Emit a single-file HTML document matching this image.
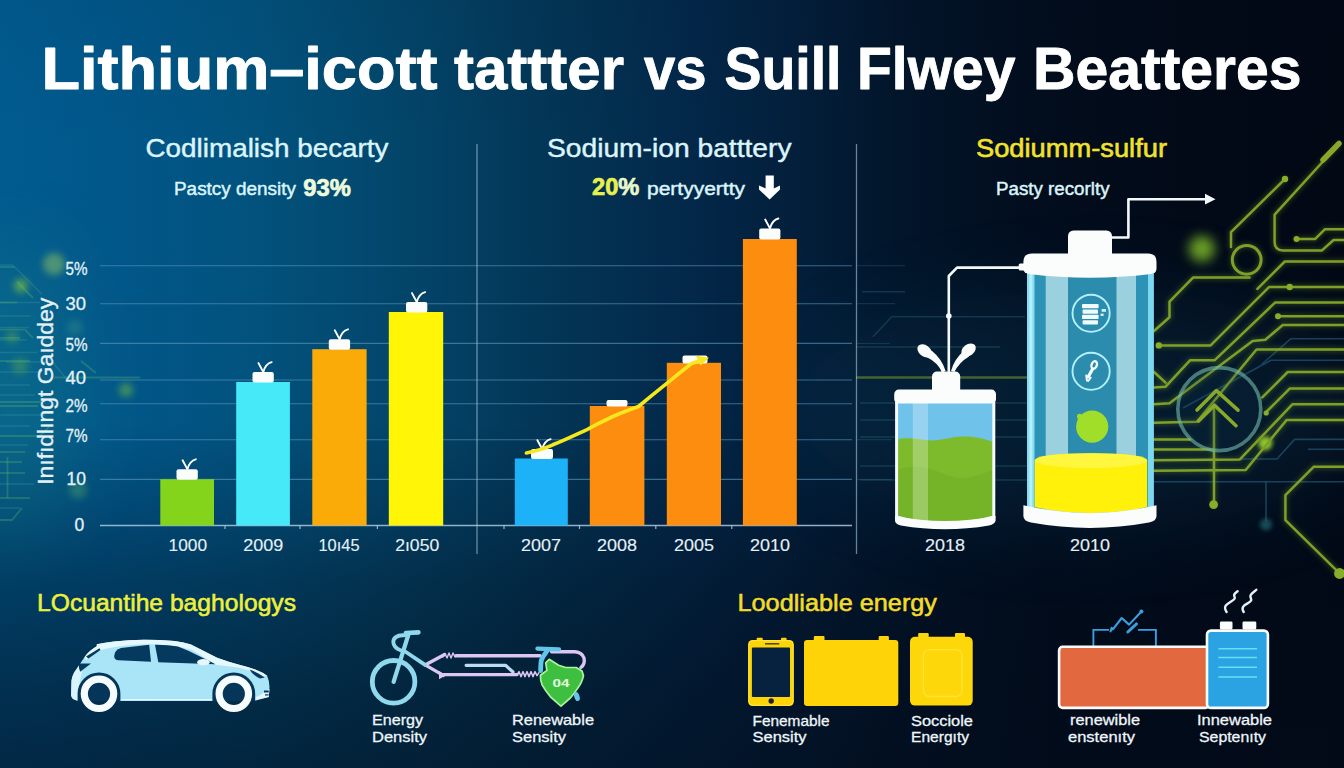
<!DOCTYPE html>
<html>
<head>
<meta charset="utf-8">
<title>Battery comparison</title>
<style>
html,body{margin:0;padding:0;width:1344px;height:768px;overflow:hidden;background:#0a1a30;}
body{font-family:"Liberation Sans",sans-serif;position:relative;}
#bg{position:absolute;left:0;top:0;width:1344px;height:768px;
background:
 linear-gradient(to bottom, rgba(2,10,30,0) 0%, rgba(2,10,30,0) 55%, rgba(2,10,30,0.18) 66%, rgba(2,11,26,0.37) 76%, rgba(2,11,26,0.54) 90%, rgba(2,11,26,0.63) 100%),
 linear-gradient(to bottom, rgba(2,10,30,0.05) 0%, rgba(2,10,30,0.02) 10%, rgba(2,10,30,0) 20%),
 linear-gradient(to right,#015b8f 0%,#01578a 8%,#02527d 19%,#034468 31%,#033454 42%,#03284a 51%,#031f3b 59%,#02152a 67%,#020d1d 77%,#020a18 88%,#020814 100%);}
svg{position:absolute;left:0;top:0;}
text{font-family:"Liberation Sans",sans-serif;}
</style>
</head>
<body>
<div id="bg"></div>
<svg width="1344" height="768" viewBox="0 0 1344 768">
<defs>
<filter id="glow" x="-50%" y="-50%" width="200%" height="200%"><feGaussianBlur stdDeviation="2.2"/></filter>
<filter id="blur4" x="-100%" y="-100%" width="300%" height="300%"><feGaussianBlur stdDeviation="3.6"/></filter>
<filter id="blur6" x="-100%" y="-100%" width="300%" height="300%"><feGaussianBlur stdDeviation="6"/></filter>
<filter id="blur30" x="-50%" y="-50%" width="200%" height="200%"><feGaussianBlur stdDeviation="40"/></filter>
<filter id="soft" x="-10%" y="-10%" width="120%" height="120%"><feGaussianBlur stdDeviation="0.6"/></filter>
</defs>

<!-- LAYER: circuits -->
<g id="circuits">
<ellipse cx="1090" cy="410" rx="290" ry="120" fill="#0f4a6a" opacity="0.24" filter="url(#blur30)"/>
<g fill="none" stroke="#2f7a86" stroke-opacity="0.32" stroke-width="1.6">
<path d="M862 291.7H905M873 336.7L891.7 316.7H1025M856 347H1000M860 403H1027M860 420H1027M860 437H1027M860 466H1027M860 480H1027"/>
</g>
<path d="M856 377.5H1029" stroke="#7d9a2a" stroke-opacity="0.55" stroke-width="2.6" fill="none"/>
<path d="M856 377.5H1029" stroke="#9cc42c" stroke-opacity="0.3" stroke-width="7" fill="none" filter="url(#glow)"/>
<circle cx="1201.8" cy="248.8" r="13" fill="#8ccc2c" opacity="0.75" filter="url(#blur6)"/>
<circle cx="1265.3" cy="443.3" r="7" fill="#9cd42e" opacity="0.9" filter="url(#glow)"/>
<circle cx="1266" cy="524.4" r="6" fill="#2a7d86" opacity="0.55" filter="url(#glow)"/>
<g fill="none" stroke="#2a6a86" stroke-opacity="0.55" stroke-width="1.6" stroke-linejoin="round"><path d="M1344 338.8H1290.7L1262 364"/><path d="M1344 360.3H1271L1183 408"/><path d="M1344 439.4H1294.6L1277 459H1240"/><path d="M1344 449.2H1308"/><path d="M1154 481.7H1344"/><path d="M1266 481.7V521"/></g>
<g fill="none" stroke="#8fbc2a" stroke-opacity="0.22" stroke-width="6" stroke-linejoin="round" stroke-linecap="round" filter="url(#glow)"><path d="M1338 145L1274.6 214.7V242Q1274.6 250.4 1283 250.4H1322L1333.6 240H1344"/><path d="M1285 179L1231 232.2V247"/><path d="M1249.6 277.6H1193L1169.5 301.6V317.2L1154 331"/><path d="M1296.5 239.1H1315L1324.8 229.3H1344"/><path d="M1344 261.5H1284.8L1257.4 288.9"/><path d="M1344 286.9H1269.2L1210.6 345.4H1158.8"/><path d="M1344 302.6H1275L1214.5 360.3H1190L1165.6 386.7L1154 387.6"/><path d="M1154 372L1165.6 382.7"/><path d="M1278 316.2H1344"/><path d="M1344 325H1282.8L1265.3 339.7L1252.6 341L1169.5 403.3L1154 404.2"/><path d="M1344 349.5H1256.5L1196.9 421.8L1154 422.8"/><path d="M1344 372H1287.7L1262.3 397.4"/><path d="M1344 388.6H1289.7L1266.2 412"/><path d="M1344 404.2H1292.6L1239.9 459.4L1154 460.2"/><path d="M1344 419.9H1286.7L1245.7 470L1154 470.8"/><path d="M1154 439.4H1190"/><path d="M1154 449.4H1212"/><path d="M1344 466.8H1313.6L1285.4 495.2V520.2L1339.6 573.4"/><path d="M1214 408V504.6"/><circle cx="1246.7" cy="259.8" r="14.4"/></g>
<g fill="none" stroke="#7fa028" stroke-width="2.5" stroke-linejoin="round" stroke-linecap="round"><path d="M1338 145L1274.6 214.7V242Q1274.6 250.4 1283 250.4H1322L1333.6 240H1344"/><path d="M1285 179L1231 232.2V247"/><path d="M1249.6 277.6H1193L1169.5 301.6V317.2L1154 331"/><path d="M1296.5 239.1H1315L1324.8 229.3H1344"/><path d="M1344 261.5H1284.8L1257.4 288.9"/><path d="M1344 286.9H1269.2L1210.6 345.4H1158.8"/><path d="M1344 302.6H1275L1214.5 360.3H1190L1165.6 386.7L1154 387.6"/><path d="M1154 372L1165.6 382.7"/><path d="M1278 316.2H1344"/><path d="M1344 325H1282.8L1265.3 339.7L1252.6 341L1169.5 403.3L1154 404.2"/><path d="M1344 349.5H1256.5L1196.9 421.8L1154 422.8"/><path d="M1344 372H1287.7L1262.3 397.4"/><path d="M1344 388.6H1289.7L1266.2 412"/><path d="M1344 404.2H1292.6L1239.9 459.4L1154 460.2"/><path d="M1344 419.9H1286.7L1245.7 470L1154 470.8"/><path d="M1154 439.4H1190"/><path d="M1154 449.4H1212"/><path d="M1344 466.8H1313.6L1285.4 495.2V520.2L1339.6 573.4"/><path d="M1214 408V504.6"/><circle cx="1246.7" cy="259.8" r="14.4" stroke-width="3"/></g>
<g fill="#88ad29"><circle cx="1285" cy="179" r="3.2"/><circle cx="1296.5" cy="239.1" r="3"/><circle cx="1158.8" cy="345.4" r="3.2"/><circle cx="1278" cy="316.2" r="3"/><circle cx="1289.7" cy="287" r="3.2"/><circle cx="1266.2" cy="413" r="2.6"/><circle cx="1213.6" cy="504.6" r="4.4"/><circle cx="1339.6" cy="573.4" r="5.5"/></g>
<path d="M1323 160L1339 143.5" stroke="#87a829" stroke-width="5.5" stroke-linecap="round" fill="none"/>
<circle cx="1219.3" cy="409.1" r="41.5" fill="#123a55" fill-opacity="0.18" stroke="#6fb7a8" stroke-opacity="0.62" stroke-width="3.6"/>
<g fill="none" stroke="#87a829" stroke-width="3.6" stroke-linecap="round" stroke-linejoin="round"><path d="M1197 410L1216.4 390.6L1238 410.2"/><path d="M1198.5 421L1214.5 405.2L1236 425.7"/></g>
<ellipse cx="10" cy="390" rx="70" ry="150" fill="#2f9a78" opacity="0.20" filter="url(#blur30)"/>
<g fill="none" stroke="#3fa0a8" stroke-opacity="0.30" stroke-width="1.6"><path d="M0 265H12.5L41.7 294M0 302.5H40M0 316H31M0 327.5H29M0 340H27M0 352.5H37M6 362H48M0 372H42M48 356.7L68.8 381.7M0 385H30M0 395H35M0 415H45M0 426H30M0 445H28M0 484H34M0 508H20"/></g>
<g fill="none" stroke="#4fae6e" stroke-opacity="0.36" stroke-width="1.8"><path d="M0 267H14"/><path d="M0 302.5H17"/><path d="M0 329.6H25L33 338"/><path d="M0 338H20"/><path d="M17 281.7L33 298"/><path d="M0 361H30"/><path d="M54 377.5H140"/><path d="M0 402H42"/><path d="M0 406H38"/><path d="M81 361L96 373"/><path d="M0 436H40L52 424"/><path d="M0 452H25"/><path d="M0 462H22"/><path d="M0 473H25"/><path d="M7.5 457V498"/><path d="M0 498H30"/><path d="M0 520H12L22 508"/></g>
<path d="M60 377.5H135" stroke="#6fc04a" stroke-opacity="0.35" stroke-width="3" filter="url(#glow)"/>
<circle cx="20.8" cy="285.8" r="7" fill="#86c83a" opacity="0.6" filter="url(#blur4)"/><circle cx="54" cy="264" r="11" fill="#98c860" opacity="0.5" filter="url(#blur4)"/><circle cx="75" cy="327.5" r="8" fill="#5aa88a" opacity="0.25" filter="url(#blur4)"/><circle cx="126" cy="390" r="7" fill="#7cc43a" opacity="0.5" filter="url(#blur4)"/><circle cx="78" cy="490" r="9" fill="#5ab46a" opacity="0.36" filter="url(#blur4)"/><circle cx="12" cy="337" r="6" fill="#7cc43a" opacity="0.35" filter="url(#blur4)"/><circle cx="20" cy="366" r="8" fill="#7cc43a" opacity="0.3" filter="url(#blur4)"/>
</g>

<!-- LAYER: grid -->
<g id="grid" stroke="#5a97bd" stroke-opacity="0.62" stroke-width="1.1" fill="none">
<path d="M100 265.7H852M100 303.7H852M100 343.4H852M100 380H852M100 403.7H852M100 439.7H852M100 479.4H852"/>
</g>
<path d="M857 265.7H905M857 303.7H895M857 343.4H890M857 439.7H892M857 479.4H892" stroke="#4f86a8" stroke-opacity="0.28" stroke-width="1" fill="none"/>
<g stroke="#a9cbe0" stroke-opacity="0.85" stroke-width="1.5" fill="none">
<path d="M100 525.6H852"/>
<path d="M225 525.6v3.4M300 525.6v3.4M377.4 525.6v3.4M504 525.6v3.4M579.5 525.6v3.4M655.8 525.6v3.4M731.8 525.6v3.4" stroke-width="1.2"/>
<path d="M477 144V554M856.5 144V554" stroke-width="1.3" stroke-opacity="0.6"/>
</g>

<!-- LAYER: chart1 -->
<g id="chart1">
<rect x="160.3" y="479.2" width="53.7" height="46.3" fill="#84d41c"/>
<rect x="236.2" y="382" width="53.7" height="143.5" fill="#46e9f8"/>
<rect x="312.3" y="349.2" width="54.3" height="176.3" fill="#fbab08"/>
<rect x="388.8" y="312" width="54.4" height="213.5" fill="#fff507"/>
<rect x="176.5" y="469.2" width="21.3" height="10.6" rx="2" fill="#fbfdfb"/><path d="M187.2 468.9L182.6 460.3M187.5 468.9Q189.7 460.9 195.8 459.3" stroke="#ffffff" stroke-width="1.9" stroke-linecap="round" fill="none"/><rect x="252.5" y="372.0" width="21.3" height="10.6" rx="2" fill="#fbfdfb"/><path d="M263.1 371.7L258.5 363.1M263.4 371.7Q265.6 363.7 271.7 362.1" stroke="#ffffff" stroke-width="1.9" stroke-linecap="round" fill="none"/><rect x="328.8" y="339.2" width="21.3" height="10.6" rx="2" fill="#fbfdfb"/><path d="M339.4 338.9L334.8 330.3M339.7 338.9Q341.9 330.9 348.0 329.3" stroke="#ffffff" stroke-width="1.9" stroke-linecap="round" fill="none"/><rect x="406.0" y="302.0" width="21.3" height="10.6" rx="2" fill="#fbfdfb"/><path d="M416.6 301.7L412.0 293.1M416.9 301.7Q419.1 293.7 425.2 292.1" stroke="#ffffff" stroke-width="1.9" stroke-linecap="round" fill="none"/>
</g>

<!-- LAYER: chart2 -->
<g id="chart2">
<rect x="514.8" y="458.5" width="53" height="67" fill="#1db1f7"/>
<rect x="589.8" y="406" width="54.6" height="119.5" fill="#fd8d0e"/>
<rect x="666.8" y="362.8" width="54.2" height="162.7" fill="#fd8d0e"/>
<rect x="742.9" y="239" width="53.9" height="286.5" fill="#fd8d0e"/>
<rect x="531.0" y="449.1" width="22" height="10.0" rx="2" fill="#fbfdfb"/><path d="M542.0 448.8L537.4 440.2M542.3 448.8Q544.5 440.8 550.6 439.2" stroke="#ffffff" stroke-width="1.9" stroke-linecap="round" fill="none"/><rect x="606.5" y="400.0" width="21" height="6.6" rx="2" fill="#fbfdfb"/><rect x="682.5" y="355.4" width="25" height="8.0" rx="2" fill="#fbfdfb"/><rect x="759.2" y="228.4" width="21.2" height="11.2" rx="2" fill="#fbfdfb"/><path d="M769.8 228.1L765.2 219.5M770.1 228.1Q772.3 220.1 778.4 218.5" stroke="#ffffff" stroke-width="1.9" stroke-linecap="round" fill="none"/>
<path d="M526.4 453C540 450 548 447 552.8 444.8C565 440 575 435 587.5 429.3C598 424 606 419.5 613 416.5C622 412.5 630 409.5 638.5 406.5C648 398.5 656 392 664 385.6C674 377.5 683 370 691.3 363.7L703 359.4" stroke="#f6e81c" stroke-width="3.6" stroke-linecap="round" stroke-linejoin="round" fill="none"/>
<path d="M696 355.8L709 357.8L700.5 365.6Z" fill="#f6e81c"/>
<path d="M765.6 175.4H773.8V188.4L780 185.4V189.4L769.6 199.6L759 189.4V185.4L765.6 188.4Z" fill="#ffffff"/>
</g>

<!-- LAYER: tanks -->
<g id="tanks">
<!-- pipes -->
<g stroke="#f4fafc" stroke-width="2.6" fill="none" stroke-linejoin="round" stroke-linecap="round">
<path d="M948.8 371V276L957 267.6H1021"/>
<path d="M1110 237.5H1128.4V199.2H1207"/>
</g>
<path d="M1205 193.8L1215.5 199.2L1205 204.6Z" fill="#f4fafc"/>
<circle cx="948.8" cy="316" r="2.8" fill="#f4fafc"/>
<!-- small jar -->
<g>
<path d="M942 372.5Q938 362.5 926.5 357L931.5 350.5Q942 359 945.6 371Z" fill="#fbfdfd"/>
<path d="M951 371Q954.2 359 964.8 350L969 356.4Q958.8 362.5 954.4 372Z" fill="#fbfdfd"/>
<ellipse cx="924.6" cy="350.8" rx="8" ry="5.6" transform="rotate(38 924.6 350.8)" fill="#fbfdfd"/>
<ellipse cx="968.6" cy="350" rx="8" ry="5.6" transform="rotate(-38 968.6 350)" fill="#fbfdfd"/>
<rect x="932" y="371.6" width="28.2" height="24" rx="5" fill="#fbfdfd"/>
<path d="M897 400H993.5V516Q945 530 897 516Z" fill="#6fc3ea"/>
<path d="M897 439.5C905 437 915 438.5 926 440C938 442 948 437 962 436.5C975 436 985 439 993.5 442V516Q945 530 897 516Z" fill="#7dbb2c"/>
<path d="M897 470C915 462 935 470 950 476C965 482 980 474 993.5 470V516Q945 530 897 516Z" fill="#6fae28" opacity="0.55"/>
<rect x="912.8" y="402" width="15.2" height="121" fill="#ffffff" opacity="0.28"/>
<path d="M896.6 398V517Q945 531.5 993.8 517V398" stroke="#f6fbfc" stroke-width="3" fill="none"/>
<path d="M895 516Q945 526 995.6 516V520.5Q995 524 989 525.5Q945 533 901 525.5Q895 524 895 520.5Z" fill="#fbfdfd"/>
<rect x="894.2" y="389.6" width="101.8" height="13.8" rx="4.5" fill="#fbfdfd"/>
</g>
<!-- big tank -->
<g>
<rect x="1027" y="268" width="126.5" height="246" fill="#9bd0de"/>
<rect x="1027" y="268" width="7.5" height="246" fill="#86dcf2"/>
<rect x="1029.3" y="268" width="3" height="246" fill="#b4f0fb"/>
<rect x="1034.5" y="268" width="11.2" height="246" fill="#2c93b6"/>
<rect x="1068" y="268" width="48.5" height="246" fill="#2b8cae"/>
<rect x="1136" y="268" width="12" height="246" fill="#2c93b6"/>
<rect x="1148" y="268" width="5.8" height="246" fill="#7cd8f0"/>
<circle cx="1091.1" cy="313.3" r="18.6" fill="none" stroke="#b4f0fc" stroke-width="1.9"/>
<g fill="#f0fbfd"><rect x="1082" y="304" width="16.6" height="4.3" rx="0.8"/><rect x="1082.6" y="309.4" width="15.4" height="4.3" rx="0.8"/><rect x="1082" y="314.8" width="16.6" height="4.3" rx="0.8"/><rect x="1082.6" y="320.2" width="15.4" height="4.4" rx="0.8"/></g>
<rect x="1101.6" y="309" width="4.4" height="2.8" fill="#cfeef6"/><rect x="1100.6" y="313.6" width="3" height="2.4" fill="#cfeef6"/>
<circle cx="1091.1" cy="371.3" r="18.6" fill="none" stroke="#b4f0fc" stroke-width="1.9"/>
<ellipse cx="1094.2" cy="365" rx="2.6" ry="3.9" transform="rotate(22 1094.2 365)" fill="none" stroke="#f4fdff" stroke-width="2.3"/>
<path d="M1092.6 369L1088.4 376.6" stroke="#f4fdff" stroke-width="3.2" stroke-linecap="round" fill="none"/>
<path d="M1086.2 375.4L1087 380.6M1090.6 377.6L1088.2 381" stroke="#f4fdff" stroke-width="2" stroke-linecap="round" fill="none"/>
<circle cx="1092.2" cy="426.6" r="16.1" fill="#a0de2a"/>
<circle cx="1079.6" cy="416.4" r="2.6" fill="#a0de2a"/>
<path d="M1034.7 460.8Q1034.7 453.2 1091 453.2Q1147.2 453.2 1147.2 460.8V507Q1091 519 1034.7 507Z" fill="#fff10a"/>
<ellipse cx="1091" cy="460.6" rx="56.2" ry="7.4" fill="#fff640"/>
<path d="M1023.4 505.3Q1090 520.5 1156.5 505.3V516Q1156.5 521 1149 522.6Q1090 533.5 1031 522.6Q1023.4 521 1023.4 516Z" fill="#fbfdfd"/>
<rect x="1068" y="230.5" width="44" height="30" rx="5.5" fill="#fbfdfd"/>
<rect x="1018.7" y="263.6" width="8" height="6.8" rx="1.5" fill="#fbfdfd"/>
<path d="M1023.4 262Q1023.4 253.4 1032 253.4H1148Q1156.5 253.4 1156.5 262V268.5Q1156.5 273 1151 274Q1090 281.5 1029 274Q1023.4 273 1023.4 268.5Z" fill="#fbfdfd"/>
</g>
</g>

<!-- LAYER: bottom -->
<g id="bottom">
<!-- car -->
<g id="car">
<path d="M71.1 695.4L71.5 680.7Q72.5 674 76.4 669.2L84.6 656.9Q90 650 96.8 646.3L96.8 644.3Q105 642.5 114 641.4Q130 639.6 145.1 639.7Q160 639.8 174.6 641Q184 642.2 191 644.6L217.1 657.7Q229 662 240.1 665.1Q250 667.5 256.4 670Q263 672.5 267.1 675.7Q269.5 681 269.5 687.2L268.7 697L254 701.1H80Q72 700.5 71.1 695.4Z" fill="#a9e5f7"/>
<path d="M84.6 656.9Q90 650 96.8 646.3L96.8 644.3Q105 642.5 114 641.4Q130 639.6 145.1 639.7Q160 639.8 174.6 641Q184 642.2 191 644.6L217.1 657.7Q229 662 240.1 665.1Q250 667.5 256.4 670Q263 672.5 267.1 675.7L262 676Q250 670 238 667.5L216 664.8L192 650Q176 645 150 644.3Q125 644.5 104 649Q92 653 86 660Z" fill="#e6f8fd"/>
<path d="M71.1 695.4L71.5 680.7Q72.5 674 76.4 669.2L80 664L82 672L78 690L80 700.6Q72 700.5 71.1 695.4Z" fill="#d9f4fc"/>
<path d="M120 700.2H254L268.7 697L269.5 689L258 696.5L216 699H120Z" fill="#e6f8fd"/>
<path d="M114.2 656Q114.5 650 121 648L149.2 644.8L151 661.8L118.5 660.3Q114 660 114.2 656Z" fill="#053a5e"/>
<path d="M155 644.7Q168 644.6 178 646.4Q189 650.5 199.1 656.1L215.5 664.3L158.3 662.3Z" fill="#053a5e"/>
<ellipse cx="203.4" cy="662.2" rx="6.3" ry="3.1" fill="#e6f8fd"/>
<path d="M86 656.5L99.5 648.2L100.5 650L88.5 658.5Z" fill="#053a5e"/>
<path d="M78.8 663.6L91 663.5L80.2 671.8Q78.5 668 78.8 663.6Z" fill="#053a5e"/>
<path d="M249.5 669.4Q258 672.5 264.7 677.6L260 678.6Q253 675.5 249.5 669.4Z" fill="#053a5e"/>
<path d="M264 690.5H268.8V692.4H264ZM265 694.2H268.6V695.6H265Z" fill="#053a5e"/>
<path d="M77.6 701.2V693.8A21.4 21.4 0 0 1 120.4 693.8V701.2Z" fill="#053659"/>
<path d="M212.4 701.2V693.8A21.4 21.4 0 0 1 255.2 693.8V701.2Z" fill="#053659"/>
<rect x="60" y="701.4" width="220" height="16" fill="#04335a" opacity="0"/>
<circle cx="99" cy="693.8" r="14.7" fill="none" stroke="#f6fcfe" stroke-width="7.2"/>
<circle cx="233.8" cy="693.8" r="14.7" fill="none" stroke="#f6fcfe" stroke-width="7.2"/>
</g>
<!-- bike + cable -->
<g id="bike" fill="none" stroke-linecap="round" stroke-linejoin="round">
<g stroke="#dcc6f3" stroke-width="3.4">
<path d="M444.6 654.5L425.1 664.9L443.3 675.4"/>
<path d="M456 655.7H540"/>
<path d="M551.6 651.8H575Q582 652.4 584 658Q585.3 664 580.9 667.5"/>
<path d="M443.5 674.6H517"/>
<path d="M517 674.6l2-3 2 5 2-5 2 5 2-5 2 5 2-5 2 5 2-5 2 4 2-3" stroke-width="1.5"/>
<path d="M443 657l2-3.5 2 4.5 2-5 2 5 2-5 2 4" stroke-width="1.4"/>
</g>
<path d="M439 671L446 675.2L439 679.2Z" fill="#dcc6f3" stroke="none"/>
<path d="M466.1 665.3H505.5L513 672" stroke="#b9dcf4" stroke-width="3.2"/>
<g stroke="#8fd8ee">
<circle cx="393.6" cy="681.8" r="21.3" stroke-width="4.8"/>
<path d="M393.6 681.8L408.6 634" stroke-width="4.2"/>
<path d="M405.8 633L418.4 632.4" stroke-width="4.6"/>
<path d="M404.6 635.4C397 634.4 392.6 638.5 393.4 643C394.2 648 400 651 404.8 651.2L425.1 664.9" stroke-width="3.8"/>
</g>
<path d="M537.4 648.6L559 649.3" stroke="#62c6ea" stroke-width="4.2"/>
<path d="M548 649.5C545.5 653.5 542 657 541.2 661C540.6 664.5 540.8 667.5 540.6 670.5" stroke="#62c6ea" stroke-width="4.8"/>
<path d="M540.4 675.3L546.9 670.4L545.7 662.8L549.2 659.3L558.6 665.2L565.7 667.5H576.2L582 671L583.5 675.7Q582 683 577.4 688.6Q574 694 570.3 698L561 706.2L550.4 696.8Q545 690 542.2 685.1Q540.2 680 540.4 675.3Z" fill="#3fbf3f" stroke="#a8f5a0" stroke-width="1.7"/>
<ellipse cx="576.9" cy="696.6" rx="2.6" ry="4.6" transform="rotate(-18 576.9 696.6)" fill="#62c6ea" stroke="none"/>
</g>
<text x="561" y="687.2" font-size="10.5" font-weight="bold" fill="#e4ffe0" text-anchor="middle" textLength="17" lengthAdjust="spacingAndGlyphs">04</text>
<!-- yellow devices -->
<g id="devices">
<rect x="756.7" y="637.8" width="6" height="4" rx="0.8" fill="#fdd507"/><rect x="781" y="637.8" width="5.6" height="4" rx="0.8" fill="#fdd507"/>
<rect x="748.1" y="639.9" width="45.7" height="66.1" rx="4.5" fill="#fdd507"/>
<rect x="748.8" y="640.6" width="44.3" height="64.7" rx="4" fill="none" stroke="#ffea50" stroke-width="1" opacity="0.8"/>
<rect x="751.9" y="647.6" width="38.1" height="49.4" rx="0.8" fill="#06223f"/>
<rect x="765" y="643" width="14.3" height="1.6" fill="#5a4a10"/>
<circle cx="771.2" cy="701" r="2.7" fill="#1c2230"/>
<rect x="813.8" y="636" width="10.7" height="6" rx="1" fill="#fed307"/><rect x="878.7" y="636" width="10.2" height="6" rx="1" fill="#fed307"/>
<rect x="804" y="639.9" width="94.3" height="66.1" rx="3.2" fill="#fed307"/>
<rect x="918.2" y="633" width="10.5" height="6" rx="1" fill="#fdd70a"/><rect x="955" y="633" width="10" height="6" rx="1" fill="#fdd70a"/>
<rect x="910" y="636.7" width="62.7" height="68.9" rx="5" fill="#fdd70a"/>
<rect x="923.4" y="649.6" width="38.6" height="46.9" rx="6" fill="none" stroke="#ffe338" stroke-width="1.4" opacity="0.9"/>
</g>
<!-- red bar + blue cell -->
<g id="cells">
<path d="M1093.4 646V629.9H1109M1138 629.9H1155.9V646" fill="none" stroke="#3a9fe0" stroke-width="1.9"/>
<path d="M1110.5 631.3l1.2-3.4 1.2 1.4L1121.7 618L1129.1 624.6L1141 612" fill="none" stroke="#3a9fe0" stroke-width="2.1" stroke-linejoin="round" stroke-linecap="round"/>
<circle cx="1141.4" cy="611.6" r="2" fill="#3a9fe0"/>
<path d="M1127.8 632L1136.5 623.9" stroke="#3a9fe0" stroke-width="3" stroke-linecap="round"/>
<rect x="1059.1" y="646.8" width="150" height="61.1" rx="3.6" fill="#e2683f" stroke="#fbfcfc" stroke-width="2.6"/>
<rect x="1219.9" y="621.4" width="12.6" height="8" rx="1.4" fill="#fbfcfc"/><rect x="1242.5" y="621.4" width="13.8" height="8" rx="1.4" fill="#fbfcfc"/>
<rect x="1207" y="630.6" width="60.9" height="77.3" rx="4" fill="#2ba3e3" stroke="#fbfcfc" stroke-width="2.6"/>
<path d="M1218.4 648.7H1257M1218.4 657.6H1257M1218.4 667.3H1257M1218.4 677H1257" stroke="#63e2f2" stroke-width="1.5"/>
<path d="M1226.6 612C1225 609.5 1224.6 607.5 1225.6 605.8C1228 602.5 1233 601 1234.6 598.6C1235.4 597 1233.6 596 1234.2 594.6C1235 593 1236.6 592.2 1237.7 591.2" fill="none" stroke="#e2f2f9" stroke-width="2.4" stroke-linecap="round"/>
<path d="M1243.7 612C1242.4 610 1242.2 608.2 1243.2 606.6C1245.4 603.6 1250 603 1251.1 600.6C1251.8 598.6 1249.8 597.4 1250.5 595.4C1251.6 593 1254.6 591.6 1256.3 589.7" fill="none" stroke="#e2f2f9" stroke-width="2.4" stroke-linecap="round"/>
</g>
</g>

<!-- LAYER: text -->
<g id="texts" fill="#ffffff">
<g font-size="60" font-weight="bold" stroke="#ffffff" stroke-width="0.9" stroke-linejoin="round">
<text x="41.5" y="88.6" textLength="396" lengthAdjust="spacingAndGlyphs">Lithium–icott</text>
<text x="454" y="88.6" textLength="170" lengthAdjust="spacingAndGlyphs">tattter</text>
<text x="644" y="88.6" textLength="62.5" lengthAdjust="spacingAndGlyphs">vs</text>
<text x="724.5" y="88.6" textLength="117" lengthAdjust="spacingAndGlyphs">Suill</text>
<text x="857" y="88.6" textLength="158.5" lengthAdjust="spacingAndGlyphs">Flwey</text>
<text x="1033" y="88.6" textLength="268.5" lengthAdjust="spacingAndGlyphs">Beatteres</text>
</g>
<g fill="#dcf4fb" stroke="#dcf4fb" stroke-width="0.45" stroke-linejoin="round">
<text x="145.5" y="157" font-size="26.5" textLength="243" lengthAdjust="spacingAndGlyphs">Codlimalish becarty</text>
<text x="174" y="195" font-size="18.3" textLength="122" lengthAdjust="spacingAndGlyphs">Pastcy density</text>
<text x="303.2" y="195.6" font-size="24" font-weight="bold" fill="#eefadc" stroke="#eefadc" stroke-width="0.7" textLength="47.6" lengthAdjust="spacingAndGlyphs">93%</text>
<text x="547" y="157" font-size="26.5" textLength="244.5" lengthAdjust="spacingAndGlyphs">Sodium-ion batttery</text>
<text x="592" y="194.8" font-size="23.8" font-weight="bold" stroke-width="0.7" textLength="47.4" lengthAdjust="spacingAndGlyphs"><tspan fill="#e9f04e" stroke="#e9f04e">20</tspan><tspan fill="#e8f8cc" stroke="#e8f8cc">%</tspan></text>
<text x="647" y="195" font-size="18.3" textLength="98" lengthAdjust="spacingAndGlyphs">pertyyertty</text>
<text x="976" y="157" font-size="26.5" fill="#f2e22c" stroke="#f2e22c" stroke-width="0.6" textLength="191" lengthAdjust="spacingAndGlyphs">Sodiumm-sulfur</text>
<text x="996" y="195" font-size="18.3" textLength="113.5" lengthAdjust="spacingAndGlyphs">Pasty recorlty</text>
</g>
<g font-size="17" fill="#e4f1f8" stroke="#e4f1f8" stroke-width="0.12" text-anchor="middle">
<text x="187.8" y="550.6" textLength="38.5" lengthAdjust="spacingAndGlyphs">1000</text><text x="263.3" y="550.6" textLength="40" lengthAdjust="spacingAndGlyphs">2009</text><text x="339" y="550.6" textLength="41" lengthAdjust="spacingAndGlyphs">10ı45</text><text x="417.2" y="550.6" textLength="44" lengthAdjust="spacingAndGlyphs">2ı050</text>
<text x="541" y="550.6" textLength="40" lengthAdjust="spacingAndGlyphs">2007</text><text x="617" y="550.6" textLength="40" lengthAdjust="spacingAndGlyphs">2008</text><text x="694" y="550.6" textLength="40" lengthAdjust="spacingAndGlyphs">2005</text><text x="770" y="550.6" textLength="40" lengthAdjust="spacingAndGlyphs">2010</text>
<text x="945" y="550.6" textLength="40" lengthAdjust="spacingAndGlyphs">2018</text><text x="1090" y="550.6" textLength="40" lengthAdjust="spacingAndGlyphs">2010</text>
</g>
<g font-size="17.5" fill="#e4f1f8" stroke="#e4f1f8" stroke-width="0.3" text-anchor="start">
<text x="65.5" y="274.5" textLength="22" lengthAdjust="spacingAndGlyphs">5%</text><text x="65.5" y="310" textLength="20.5" lengthAdjust="spacingAndGlyphs">30</text><text x="65.5" y="350.5" textLength="22" lengthAdjust="spacingAndGlyphs">5%</text><text x="65.5" y="383.8" textLength="20.5" lengthAdjust="spacingAndGlyphs">40</text>
<text x="65.5" y="412" textLength="22" lengthAdjust="spacingAndGlyphs">2%</text><text x="65.5" y="442" textLength="22" lengthAdjust="spacingAndGlyphs">7%</text><text x="66.5" y="484.6" textLength="19.5" lengthAdjust="spacingAndGlyphs">10</text><text x="74.5" y="531">0</text>
</g>
<text transform="translate(53.2,484.8) rotate(-90)" font-size="22" fill="#e4f1f8" stroke="#e4f1f8" stroke-width="0.35" textLength="187" lengthAdjust="spacingAndGlyphs">Inıfıdlıngt Gaıddey</text>
<text x="37" y="611" font-size="24.3" fill="#eef03c" stroke="#eef03c" stroke-width="0.55" textLength="259" lengthAdjust="spacingAndGlyphs">LOcuantihe baghologys</text>
<text x="737.5" y="611" font-size="24.3" fill="#f4dc28" stroke="#f4dc28" stroke-width="0.55" textLength="199.5" lengthAdjust="spacingAndGlyphs">Loodliable energy</text>
<g font-size="15.5" fill="#eef6fb" stroke="#eef6fb" stroke-width="0.3">
<text x="372" y="725.4" textLength="51" lengthAdjust="spacingAndGlyphs">Energy</text>
<text x="372" y="741.8" textLength="55" lengthAdjust="spacingAndGlyphs">Density</text>
<text x="512" y="725.4" textLength="82" lengthAdjust="spacingAndGlyphs">Renewable</text>
<text x="512" y="741.8" textLength="54" lengthAdjust="spacingAndGlyphs">Sensity</text>
<text x="752.5" y="725.5" textLength="77" lengthAdjust="spacingAndGlyphs">Fenemable</text>
<text x="752.5" y="742" textLength="54" lengthAdjust="spacingAndGlyphs">Sensity</text>
<text x="911" y="725.5" textLength="62" lengthAdjust="spacingAndGlyphs">Socciole</text>
<text x="911" y="742" textLength="58" lengthAdjust="spacingAndGlyphs">Energıty</text>
<text x="1070" y="725.4" textLength="70" lengthAdjust="spacingAndGlyphs">renewible</text>
<text x="1068" y="741.8" textLength="67" lengthAdjust="spacingAndGlyphs">enstenıty</text>
<text x="1197" y="725.4" textLength="75" lengthAdjust="spacingAndGlyphs">Innewable</text>
<text x="1199" y="741.8" textLength="67" lengthAdjust="spacingAndGlyphs">Septenıty</text>
</g>
</g>
</svg>
</body>
</html>
